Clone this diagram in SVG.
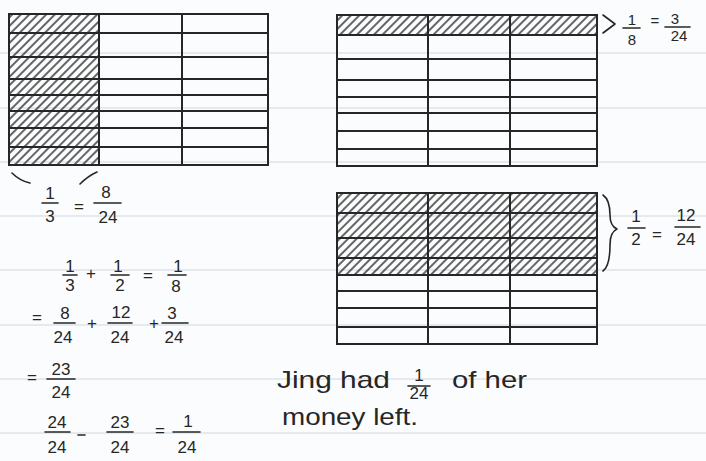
<svg xmlns="http://www.w3.org/2000/svg" width="706" height="461" viewBox="0 0 706 461">
<defs>
<style>
.rule{stroke:#dfe4ea;stroke-width:1.5}
.g{stroke:#262626;stroke-width:2;fill:none;stroke-linecap:square}
.ink{stroke:#262626;stroke-width:1.6;fill:none;stroke-linecap:round;stroke-linejoin:round}
.t{font-family:"Liberation Sans",Arial,sans-serif;fill:#262626;text-anchor:middle;font-size:17px}
.s{font-size:15px}
.w{font-family:"Liberation Sans",Arial,sans-serif;fill:#262626;font-size:24px}
</style>
<pattern id="hatch" width="6" height="6" patternUnits="userSpaceOnUse" patternTransform="rotate(45)">
<line x1="1" y1="0" x2="1" y2="6" stroke="#333" stroke-width="1.5"/>
</pattern>
</defs>
<rect width="706" height="461" fill="#fbfcfd"/>
<g id="ruled-lines">
<line class="rule" x1="0" y1="53" x2="706" y2="53"/>
<line class="rule" x1="0" y1="108" x2="706" y2="108"/>
<line class="rule" x1="0" y1="162" x2="706" y2="162"/>
<line class="rule" x1="0" y1="216" x2="706" y2="216"/>
<line class="rule" x1="0" y1="270" x2="706" y2="270"/>
<line class="rule" x1="0" y1="325" x2="706" y2="325"/>
<line class="rule" x1="0" y1="379" x2="706" y2="379"/>
<line class="rule" x1="0" y1="433" x2="706" y2="433"/>
</g>

<g id="grid-thirds">
<rect x="9" y="14" width="90" height="151" fill="url(#hatch)"/>
<rect class="g" x="9" y="14" width="259" height="151"/>
<path class="g" d="M99 14V165M182 14V165M9 33H268M9 57H268M9 79H268M9 95H268M9 111H268M9 128H268M9 147H268"/>
<path class="ink" d="M12 173Q20 181 30 183M80 184Q88 176 97 172"/>
<text class="t" x="50" y="199">1</text>
<line class="ink" x1="42" y1="203" x2="58" y2="203"/>
<text class="t" x="50" y="222">3</text>
<text class="t" x="79" y="212">=</text>
<text class="t" x="106" y="198">8</text>
<line class="ink" x1="94" y1="203" x2="121" y2="203"/>
<text class="t" x="108" y="223">24</text>
</g>

<g id="grid-eighth">
<rect x="337" y="15" width="260" height="20" fill="url(#hatch)"/>
<rect class="g" x="337" y="15" width="260" height="151"/>
<path class="g" d="M428 15V166M510 15V166M337 35H597M337 59H597M337 80H597M337 97H597M337 113H597M337 131H597M337 149H597"/>
<path class="ink" d="M603 15L615 24L603 33"/>
<text class="t s" x="632" y="25">1</text>
<line class="ink" x1="623" y1="28" x2="640" y2="28"/>
<text class="t s" x="632" y="45">8</text>
<text class="t s" x="655" y="26">=</text>
<text class="t s" x="675" y="24">3</text>
<line class="ink" x1="665" y1="27" x2="690" y2="27"/>
<text class="t s" x="679" y="41">24</text>
</g>

<g id="grid-half">
<rect x="337" y="193" width="260" height="82" fill="url(#hatch)"/>
<rect class="g" x="337" y="193" width="260" height="151"/>
<path class="g" d="M428 193V344M510 193V344M337 213H597M337 238H597M337 258H597M337 275H597M337 291H597M337 308H597M337 327H597"/>
<path class="ink" d="M603 195Q610 200 610 215Q610 226 617 229Q610 232 610 245Q610 266 603 271"/>
<text class="t" x="636" y="222">1</text>
<line class="ink" x1="628" y1="228" x2="645" y2="228"/>
<text class="t" x="636" y="245">2</text>
<text class="t" x="657" y="240">=</text>
<text class="t" x="686" y="221">12</text>
<line class="ink" x1="675" y1="227" x2="700" y2="227"/>
<text class="t" x="686" y="245">24</text>
</g>

<g id="working">
<text class="t" x="70" y="272">1</text>
<line class="ink" x1="63" y1="275" x2="77" y2="275"/>
<text class="t" x="70" y="291">3</text>
<text class="t" x="91" y="279">+</text>
<text class="t" x="118" y="272">1</text>
<line class="ink" x1="111" y1="275" x2="129" y2="275"/>
<text class="t" x="120" y="291">2</text>
<text class="t" x="148" y="281">=</text>
<text class="t" x="178" y="272">1</text>
<line class="ink" x1="168" y1="275" x2="186" y2="275"/>
<text class="t" x="176" y="292">8</text>

<text class="t" x="37" y="323">=</text>
<text class="t" x="65" y="319">8</text>
<line class="ink" x1="54" y1="323" x2="75" y2="323"/>
<text class="t" x="63" y="343">24</text>
<text class="t" x="92" y="329">+</text>
<text class="t" x="121" y="318">12</text>
<line class="ink" x1="108" y1="323" x2="132" y2="323"/>
<text class="t" x="120" y="343">24</text>
<text class="t" x="154" y="329">+</text>
<text class="t" x="172" y="319">3</text>
<line class="ink" x1="162" y1="323" x2="188" y2="323"/>
<text class="t" x="174" y="343">24</text>

<text class="t" x="32" y="383">=</text>
<text class="t" x="61" y="375">23</text>
<line class="ink" x1="47" y1="379" x2="75" y2="379"/>
<text class="t" x="61" y="398">24</text>

<text class="t" x="57" y="428">24</text>
<line class="ink" x1="45" y1="432" x2="70" y2="432"/>
<text class="t" x="57" y="453">24</text>
<line class="ink" x1="78" y1="435" x2="85" y2="435"/>
<text class="t" x="120" y="428">23</text>
<line class="ink" x1="107" y1="432" x2="133" y2="432"/>
<text class="t" x="120" y="453">24</text>
<text class="t" x="160" y="436">=</text>
<text class="t" x="188" y="427">1</text>
<line class="ink" x1="173" y1="432" x2="200" y2="432"/>
<text class="t" x="187" y="453">24</text>
</g>

<g id="answer">
<text class="w" x="277" y="388" textLength="113" lengthAdjust="spacingAndGlyphs">Jing had</text>
<text class="t" x="419" y="381" font-size="13">1</text>
<line class="ink" x1="408" y1="386" x2="430" y2="386"/>
<text class="t" x="419" y="399" font-size="12">24</text>
<text class="w" x="452" y="388" textLength="75" lengthAdjust="spacingAndGlyphs">of her</text>
<text class="w" x="282" y="425" textLength="136" lengthAdjust="spacingAndGlyphs">money left.</text>
</g>
</svg>
